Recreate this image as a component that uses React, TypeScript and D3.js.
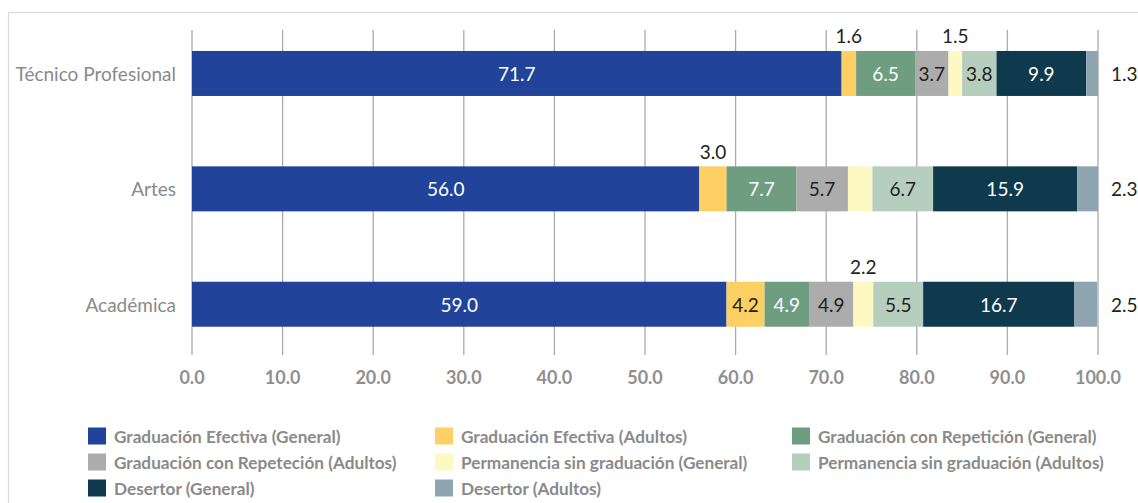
import React from "react";
import * as d3 from "d3";

const categories = ["Técnico Profesional", "Artes", "Académica"];

const seriesNames = [
  "Graduación Efectiva (General)",
  "Graduación Efectiva (Adultos)",
  "Graduación con Repetición (General)",
  "Graduación con Repeteción (Adultos)",
  "Permanencia sin graduación (General)",
  "Permanencia sin graduación (Adultos)",
  "Desertor (General)",
  "Desertor (Adultos)",
];

const seriesColors = [
  "#21439a",
  "#fecf62",
  "#6f9d7f",
  "#acacac",
  "#fef8c2",
  "#b6cebe",
  "#0f394d",
  "#8ea5b1",
];

// values per category, in series order
const tecnicoValues = [71.7, 1.6, 6.5, 3.7, 1.5, 3.8, 9.9, 1.3];
const artesValues = [56.0, 3.0, 7.7, 5.7, 2.7, 6.7, 15.9, 2.3];
const academicaValues = [59.0, 4.2, 4.9, 4.9, 2.2, 5.5, 16.7, 2.5];

const categoryValues = [tecnicoValues, artesValues, academicaValues];

const xTicks = [0, 10, 20, 30, 40, 50, 60, 70, 80, 90, 100];

// labels not shown in the reference
const hiddenLabels = [["Artes", "Permanencia sin graduación (General)"]];

const W = 1138;
const H = 503;
const FONT = "Lato, 'Open Sans', sans-serif";

export default function App() {
  const x = d3.scaleLinear().domain([0, 100]).range([192, 1098]);
  const y = d3
    .scaleBand<string>()
    .domain(categories)
    .range([16.35, 361.35])
    .paddingInner(0.61)
    .paddingOuter(0.3);

  const rows = categories.map((c, i) => ({ key: c, values: categoryValues[i] }));
  const stackData = rows.map((r) => {
    const o: any = { key: r.key };
    seriesNames.forEach((s, j) => (o[s] = r.values[j]));
    return o;
  });
  const stacked = d3.stack<any>().keys(seriesNames)(stackData);

  const darkFill = new Set([0, 2, 6]);
  const bw = y.bandwidth();

  const legendCols = [88, 435, 792];
  const legendRows = [436, 462, 488];

  return (
    <svg
      width={W}
      height={H}
      style={{ position: "absolute", left: 0, top: 0, background: "#fff" }}
      fontFamily={FONT}
    >
      <rect x={8.5} y={12.5} width={1200} height={600} fill="none" stroke="#dadada" strokeWidth={1.2} />
      {/* grid */}
      {xTicks.map((t) => (
        <line key={t} x1={x(t)} x2={x(t)} y1={30} y2={355} stroke="#ababab" strokeWidth={1.3} />
      ))}
      {/* bars */}
      {stacked.map((layer, j) =>
        layer.map((d, i) => (
          <rect
            key={`${j}-${i}`}
            x={x(d[0])}
            width={x(d[1]) - x(d[0])}
            y={y(categories[i])}
            height={bw}
            fill={seriesColors[j]}
          />
        ))
      )}
      {/* value labels */}
      {stacked.map((layer, j) =>
        layer.map((d, i) => {
          const cat = categories[i];
          const v = categoryValues[i][j];
          if (hiddenLabels.some(([c, s]) => c === cat && s === seriesNames[j])) return null;
          const y0 = y(cat)!;
          const cx = (x(d[0]) + x(d[1])) / 2;
          const txt = v.toFixed(1);
          if (j === seriesNames.length - 1) {
            return (
              <text key={`l${j}-${i}`} x={x(100) + 13} y={y0 + bw / 2} dominantBaseline="central" fontSize={19} fill="#231f20">
                {txt}
              </text>
            );
          }
          if (v < 3.5) {
            return (
              <text key={`l${j}-${i}`} x={cx} y={y0 - 15} textAnchor="middle" dominantBaseline="central" fontSize={19} fill="#231f20">
                {txt}
              </text>
            );
          }
          return (
            <text
              key={`l${j}-${i}`}
              x={cx}
              y={y0 + bw / 2}
              textAnchor="middle"
              dominantBaseline="central"
              fontSize={19}
              fill={darkFill.has(j) ? "#ffffff" : "#231f20"}
            >
              {txt}
            </text>
          );
        })
      )}
      {/* category labels */}
      {categories.map((c) => (
        <text key={c} x={176} y={y(c)! + bw / 2} textAnchor="end" dominantBaseline="central" fontSize={19} fill="#8a8a8a">
          {c}
        </text>
      ))}
      {/* x tick labels */}
      {xTicks.map((t) => (
        <text key={t} x={x(t)} y={377} textAnchor="middle" dominantBaseline="central" fontSize={18} fontWeight={700} fill="#8f8f8f">
          {t.toFixed(1)}
        </text>
      ))}
      {/* legend */}
      {seriesNames.map((s, k) => {
        const col = k % 3;
        const row = Math.floor(k / 3);
        const lx = legendCols[col];
        const ly = legendRows[row];
        return (
          <g key={s}>
            <rect x={lx} y={ly - 8.5} width={18} height={17} fill={seriesColors[k]} />
            <text x={lx + 26} y={ly} dominantBaseline="central" fontSize={17.2} fontWeight={700} fill="#8a8a8a">
              {s}
            </text>
          </g>
        );
      })}
    </svg>
  );
}
